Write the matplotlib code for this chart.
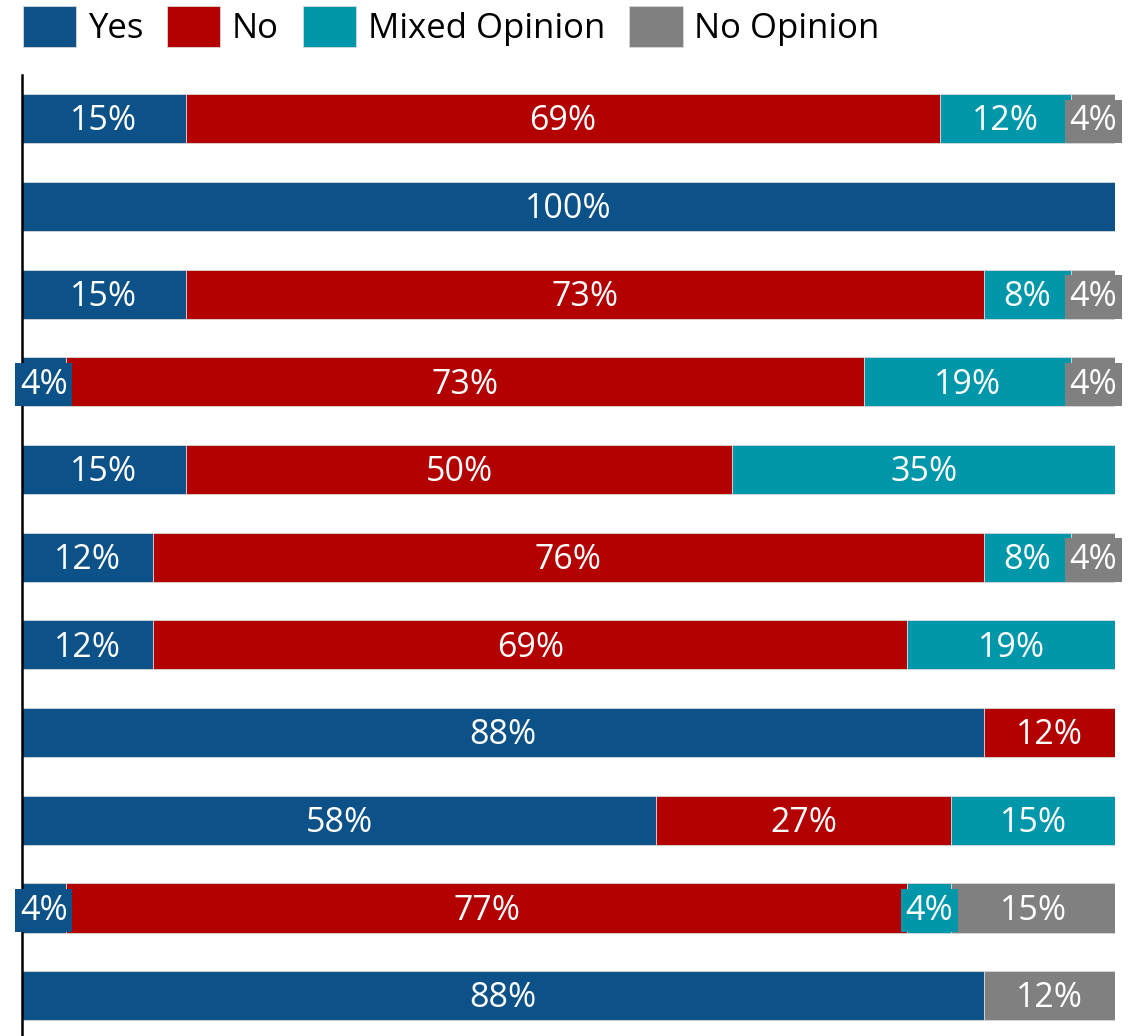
import matplotlib
matplotlib.use("Agg")
import matplotlib.pyplot as plt
import numpy as np

plt.rcParams['font.family'] = ['Open Sans', 'DejaVu Sans']

series = ["Yes", "No", "Mixed Opinion", "No Opinion"]
colors = ["#0C5289", "#B30000", "#0097AB", "#808080"]

yes = [15, 100, 15, 4, 15, 12, 12, 88, 58, 4, 88]
no = [69, 0, 73, 73, 50, 76, 69, 12, 27, 77, 0]
mixed = [12, 0, 8, 19, 35, 8, 19, 0, 15, 4, 0]
no_opinion = [4, 0, 4, 4, 0, 4, 0, 0, 0, 15, 12]

values = [yes, no, mixed, no_opinion]
n_rows = len(yes)
rows = np.arange(n_rows)

W, H = 1137, 1036
fig = plt.figure(figsize=(W / 100, H / 100), dpi=100)
ax = fig.add_axes([22 / W, 0, (1115 - 22) / W, 1 - 75 / H])

left = np.zeros(n_rows)
for name, vals, col in zip(series, values, colors):
    vals = np.array(vals, dtype=float)
    ax.barh(rows, vals, left=left, height=0.56, color=col, label=name,
            edgecolor="#d8d8d8", linewidth=0.6)
    for r, (l, v) in enumerate(zip(left, vals)):
        if v > 0:
            ax.text(l + v / 2, r + 0.03, f"{int(v)}%", ha="center",
                    va="center", color="white", fontsize=24.5, zorder=5,
                    bbox=dict(boxstyle="square,pad=0.14", facecolor=col,
                              edgecolor="none"))
    left += vals

ax.set_xlim(0, 100)
ax.set_ylim(10.46, -0.5)
ax.set_xticks([])
ax.set_yticks([])
for s in ["top", "right", "bottom"]:
    ax.spines[s].set_visible(False)
ax.spines["left"].set_linewidth(1.8)
ax.spines["left"].set_color("black")

fig.legend(loc="upper left", bbox_to_anchor=(23 / W, 1 - 6 / H), ncol=4,
           frameon=False, fontsize=25, handlelength=1.53, handleheight=1.45,
           handletextpad=0.33, columnspacing=0.7, borderaxespad=0,
           borderpad=0)

fig.savefig("out.png", dpi=100)
